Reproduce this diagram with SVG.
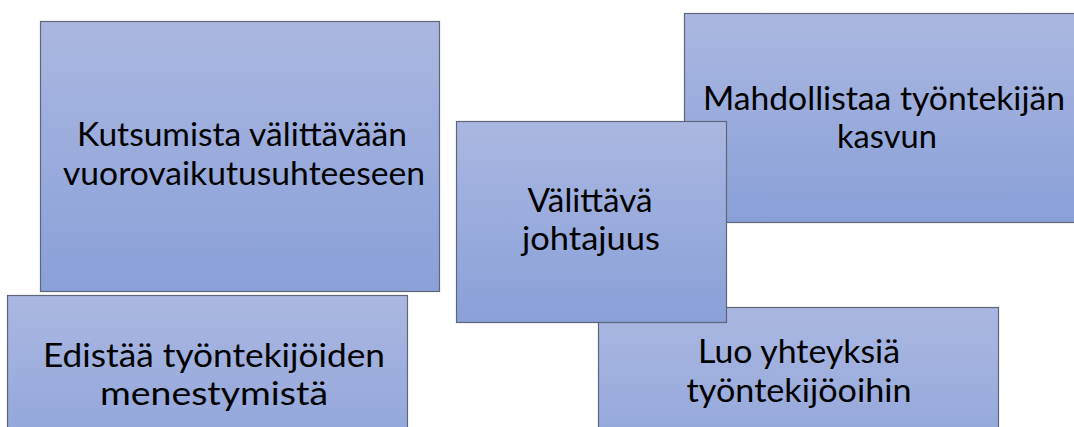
<svg xmlns="http://www.w3.org/2000/svg" width="1074" height="427" viewBox="0 0 1074 427">
  <defs>
    <linearGradient id="boxFill" x1="0" y1="0" x2="0" y2="1">
      <stop offset="0" stop-color="#aab7e1"/>
      <stop offset="1" stop-color="#8aa0d8"/>
    </linearGradient>
    <style>
      .box { fill: url(#boxFill); stroke: #5f6677; stroke-width: 1.2; }
      .label { font-family: Lato, "Open Sans", "Liberation Sans", sans-serif; font-size: 33px; fill: #000000; text-anchor: middle; }
    </style>
  </defs>

  <rect width="1074" height="427" fill="#ffffff"/>

  <!-- Back right box -->
  <g id="node-kasvu">
    <rect class="box" x="684.5" y="13.5" width="401" height="209"/>
    <text class="label" x="884" y="110" textLength="362" lengthAdjust="spacingAndGlyphs">Mahdollistaa työntekijän</text>
    <text class="label" x="887" y="148" textLength="100" lengthAdjust="spacingAndGlyphs">kasvun</text>
  </g>

  <g id="node-kutsu">
    <rect class="box" x="40.5" y="21.5" width="399" height="270"/>
    <text class="label" x="242" y="146" textLength="330" lengthAdjust="spacingAndGlyphs">Kutsumista välittävään</text>
    <text class="label" x="244" y="185" textLength="362" lengthAdjust="spacingAndGlyphs">vuorovaikutusuhteeseen</text>
  </g>

  <g id="node-edistaa">
    <rect class="box" x="7.5" y="295.5" width="400" height="200"/>
    <text class="label" x="214" y="367" textLength="342" lengthAdjust="spacingAndGlyphs">Edistää työntekijöiden</text>
    <text class="label" x="214" y="405" textLength="228" lengthAdjust="spacingAndGlyphs">menestymistä</text>
  </g>

  <g id="node-yhteydet">
    <rect class="box" x="598.5" y="307.5" width="400" height="200"/>
    <text class="label" x="799" y="363" textLength="202" lengthAdjust="spacingAndGlyphs">Luo yhteyksiä</text>
    <text class="label" x="799" y="402" textLength="225" lengthAdjust="spacingAndGlyphs">työntekijöoihin</text>
  </g>

  <!-- Central box, drawn last so it sits on top -->
  <g id="node-johtajuus">
    <rect class="box" x="456.5" y="121.5" width="270" height="201"/>
    <text class="label" x="590" y="212" textLength="125" lengthAdjust="spacingAndGlyphs">Välittävä</text>
    <text class="label" x="591" y="250" textLength="138" lengthAdjust="spacingAndGlyphs">johtajuus</text>
  </g>

  <g id="connectors"></g>
</svg>
